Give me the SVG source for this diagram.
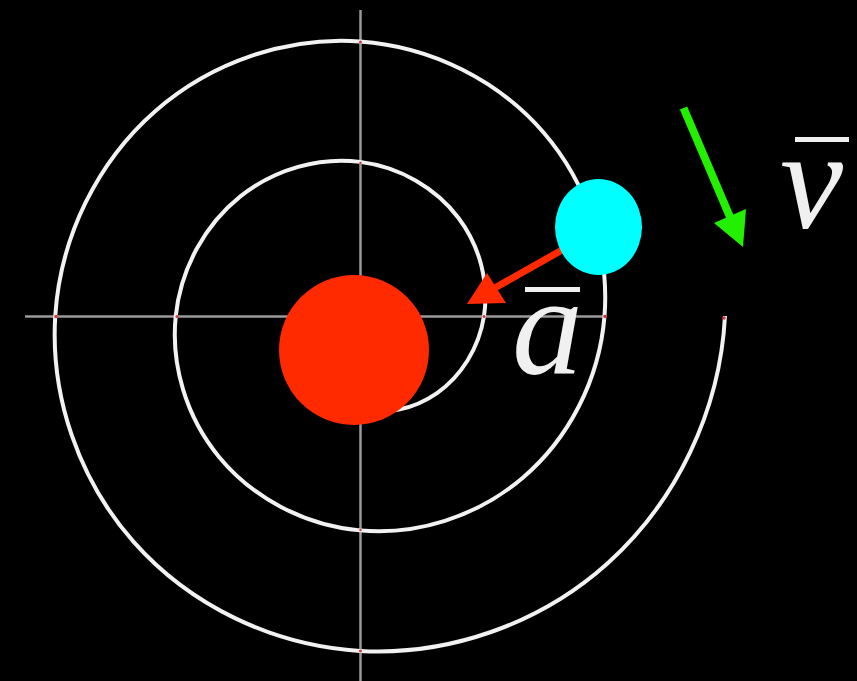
<svg xmlns="http://www.w3.org/2000/svg" width="857" height="681" viewBox="0 0 857 681">
<style>
.axis{stroke:#9a9a9a;stroke-width:2.5;fill:none}
.spiral{stroke:#f2f2f2;stroke-width:4;fill:none;stroke-linecap:butt}
.dot{fill:#d23a3a}
.lbl{font-family:"Liberation Serif","DejaVu Serif",serif;font-style:italic;font-size:142px;fill:#f0f0f0}
.bar{fill:#f0f0f0}
</style>
<rect width="857" height="681" fill="#000"/>
<g id="axes">
<line class="axis" x1="360.5" y1="10" x2="360.5" y2="681"/>
<line class="axis" x1="25" y1="316.5" x2="605" y2="316.5"/>
</g>
<g id="spiral">
<path class="spiral" d="M360,409.88 C384.58,414.90 413.31,409.65 437.03,393.03 C460.75,376.41 478.98,348.46 484,316 C489.02,283.54 480.53,246.96 458.33,217.67 C436.14,188.37 400.35,166.90 360,161.88 C319.65,156.85 275.24,168.60 240.37,196.37 C205.50,224.14 180.77,267.76 175.75,316 C170.73,364.24 185.72,416.49 219.06,456.94 C252.41,497.38 303.88,525.35 360,530.38 C416.12,535.40 476.21,517.16 522.24,478.24 C568.26,439.31 599.48,380.01 604.5,316 C609.52,251.99 588.04,184.06 543.54,132.46 C499.04,80.86 431.90,46.40 360,41.38 C288.10,36.35 212.34,61.08 155.16,111.16 C97.98,161.24 60.27,236.22 55.25,316 C50.23,395.78 78.20,479.39 133.86,542.14 C189.51,604.90 272.33,645.85 360,650.88 C447.67,655.90 539.11,624.68 607.44,563.44 C675.78,502.21 719.98,411.56 725,316"/>
<circle class="dot" cx="56" cy="316.5" r="1.8"/>
<circle class="dot" cx="177" cy="316.5" r="1.5"/>
<circle class="dot" cx="484" cy="316.5" r="1.5"/>
<circle class="dot" cx="605" cy="316.5" r="1.8"/>
<circle class="dot" cx="724" cy="318" r="1.8"/>
<circle class="dot" cx="360.5" cy="42" r="1.5"/>
<circle class="dot" cx="360.5" cy="163" r="1.2"/>
<circle class="dot" cx="360.5" cy="530" r="1.2"/>
<circle class="dot" cx="360.5" cy="651" r="1.5"/>
</g>
<g id="sun">
<circle cx="354" cy="350" r="75" fill="#ff2a00"/>
</g>
<g id="connectors">
<line x1="562" y1="250" x2="493" y2="289" stroke="#ff2a00" stroke-width="7"/>
<polygon points="467,304 487,273 506,303" fill="#ff2a00"/>
<line x1="683.5" y1="108" x2="733" y2="224" stroke="#22f000" stroke-width="8"/>
<polygon points="743,247 714,223 746,209" fill="#22f000"/>
</g>
<g id="planet">
<ellipse cx="598.5" cy="227" rx="43.5" ry="48" fill="#00ffff"/>
</g>
<g id="label-a">
<rect class="bar" x="525" y="287" width="55" height="5"/>
<text class="lbl" x="512" y="374">a</text>
</g>
<g id="label-v">
<rect class="bar" x="795" y="137" width="54" height="5"/>
<text class="lbl" x="780" y="228">v</text>
</g>
</svg>
